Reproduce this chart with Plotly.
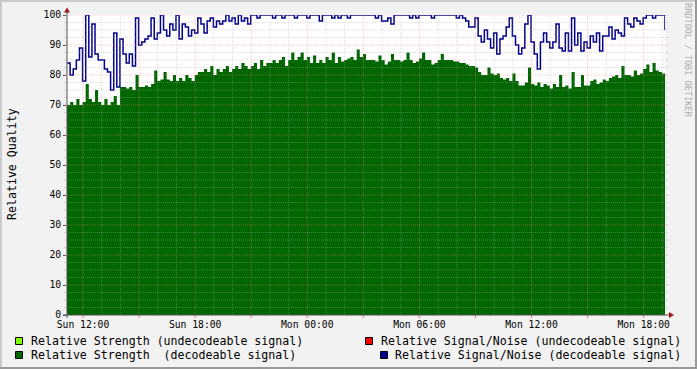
import plotly.graph_objects as go
import pandas as pd

# ---------------- data ----------------
START = "2024-01-07 11:08:30"   # a Sunday
STEP = "10min"

strength_decodeable = [
    70, 71, 70, 72, 70, 71, 77, 72, 71, 75, 71, 70, 72, 70, 71, 73, 70, 76, 76, 75.5,
    76, 75, 80, 76, 76, 76.5, 76, 77, 81.5, 78, 78.5, 81, 78.5,
    78, 80, 78, 79, 78, 80, 79, 78, 80, 81, 81, 82, 81, 83, 80, 82, 81, 82, 83, 81,
    82, 83, 82, 84, 83, 82, 83, 84, 82, 85, 83, 84, 84,
    85, 84, 85, 86, 83, 85, 87.5, 85, 86, 87.5, 85, 86, 84, 86.5, 84, 85, 84, 86, 85, 87.5,
    84, 86, 84.5, 85, 85.5, 86, 85, 88.5, 86, 87, 85, 85,
    85, 84.5, 86.5, 85, 83.5, 84.5, 87, 85, 85, 84.5, 85, 87.5, 85, 84, 84.5, 85.5, 87.5, 85,
    85, 83.5, 84, 85, 87, 85, 85, 85, 84.5, 84.5, 84, 84, 83.5, 83,
    83, 82.5, 81, 80, 80, 82.5, 80.5, 80, 80.5, 79, 78.5, 79, 78, 80.5, 78, 76.5, 76.5, 77.5,
    82.5, 77, 76.5, 77.5, 76, 77, 76.5, 75.5, 77, 76, 80, 76, 76.5, 75.5,
    81, 76, 76, 80, 76.5, 76.5, 78, 78.5, 77, 77.5, 78.5, 78, 79, 79.5, 80, 79, 83, 80,
    80, 79.5, 81.5, 80, 80.5, 82, 83.5, 81, 84, 81.5, 81, 80.5, 80.5,
]

snr_decodeable = [
    84, 80, 82, 85, 89, 78, 100, 86, 97, 87, 85, 85, 82, 81, 75, 94, 76, 92, 87, 84,
    87, 83, 99, 90, 91, 92, 93, 99, 92, 94, 100, 95, 93,
    97, 95, 100, 92, 97, 96, 93, 95, 94, 99, 97, 94, 98, 99, 96, 98, 97, 98, 100, 98,
    99, 97, 100, 98, 99, 97, 100, 100, 99, 100, 100, 100, 100,
    99, 100, 100, 99, 100, 100, 100, 99, 100, 100, 100, 99, 100, 100, 100, 98, 100, 100,
    100, 99, 100, 99, 100, 100, 99, 100, 100, 100, 100, 100, 100, 100,
    100, 99, 100, 98, 98, 99, 97, 100, 100, 100, 100, 100, 99, 100, 99, 100, 100, 100,
    100, 99, 100, 100, 100, 100, 100, 100, 100, 99, 100, 99, 98, 96,
    96, 99, 93, 91, 95, 92, 89, 94, 87, 92, 93, 96, 99, 93, 90, 87, 89, 97, 100, 91,
    87, 82, 91, 94, 91, 89, 91, 97, 89, 88, 94, 88,
    99, 90, 94, 88, 91, 89, 93, 91, 94, 88, 93, 93, 96, 92, 95, 94, 93, 99, 97, 96,
    99, 98, 97, 99, 100, 100, 99, 100, 100, 100, 95,
]

tick_times = [
    "2024-01-07 12:00", "2024-01-07 15:00", "2024-01-07 18:00", "2024-01-07 21:00",
    "2024-01-08 00:00", "2024-01-08 03:00", "2024-01-08 06:00", "2024-01-08 09:00",
    "2024-01-08 12:00", "2024-01-08 15:00", "2024-01-08 18:00",
]
tick_labels = [
    "Sun 12:00", "", "Sun 18:00", "", "Mon 00:00", "", "Mon 06:00", "",
    "Mon 12:00", "", "Mon 18:00",
]
y_ticks = [0, 10, 20, 30, 40, 50, 60, 70, 80, 90, 100]

legend_labels = [
    "Relative Strength (undecodeable signal)",
    "Relative Strength  (decodeable signal)",
    "Relative Signal/Noise (undecodeable signal)",
    "Relative Signal/Noise (decodeable signal)",
]
legend_colors = ["#80ff00", "#006600", "#ff0000", "#000090"]

# ---------------- layout geometry ----------------
W, H = 697, 369
L, R, T, B = 67, 665, 15, 315
FONT = "DejaVu Sans Mono"


def px(x):
    return (x - L) / (R - L)


def py(y):
    return (B - y) / (B - T)


times = pd.date_range(START, periods=len(snr_decodeable), freq=STEP)

fig = go.Figure()
fig.add_trace(go.Scatter(
    x=times, y=strength_decodeable, mode="lines", line=dict(width=0, shape="hv"),
    fill="tozeroy", fillcolor="#006600", hoverinfo="skip", showlegend=False,
))
fig.add_trace(go.Scatter(
    x=times, y=snr_decodeable, mode="lines",
    line=dict(width=1.5, shape="hv", color="#000088"),
    hoverinfo="skip", showlegend=False, cliponaxis=False,
))

shapes = []
MINOR = "rgba(170,170,170,0.4)"
MAJOR = "rgba(255,128,128,0.45)"

# horizontal grid
for k in range(1, 41):
    v = 2.5 * k
    col = MAJOR if v % 10 == 0 else MINOR
    shapes.append(dict(type="line", xref="paper", yref="y", x0=0, x1=1, y0=v, y1=v,
                       line=dict(color=col, width=1, dash="1px,1px"), layer="above"))
    shapes.append(dict(type="line", xref="paper", yref="y", x0=px(665), x1=px(668), y0=v, y1=v,
                       line=dict(color=col, width=1), layer="above"))
    shapes.append(dict(type="line", xref="paper", yref="y", x0=px(64), x1=px(67), y0=v, y1=v,
                       line=dict(color=col, width=1), layer="above"))

# vertical grid (hourly, major every 3h)
hours = pd.date_range("2024-01-07 12:00", "2024-01-08 19:00", freq="1h")
for h in hours:
    col = MAJOR if h.hour % 3 == 0 else MINOR
    shapes.append(dict(type="line", xref="x", yref="paper", x0=h, x1=h, y0=0, y1=1,
                       line=dict(color=col, width=1, dash="1px,1px"), layer="above"))
    if h.hour % 3 == 0:
        shapes.append(dict(type="line", xref="x", yref="paper", x0=h, x1=h, y0=py(315), y1=py(318),
                           line=dict(color="rgba(230,90,90,0.8)", width=1), layer="above"))

# axes lines
AX = "#505050"
shapes.append(dict(type="line", xref="paper", yref="paper", x0=px(63), x1=px(670), y0=0, y1=0,
                   line=dict(color=AX, width=1), layer="above"))
shapes.append(dict(type="line", xref="paper", yref="paper", x0=0, x1=0, y0=py(318), y1=py(10),
                   line=dict(color=AX, width=1), layer="above"))
# arrows
ARW = "#a01818"
shapes.append(dict(type="path", xref="paper", yref="paper",
                   path=f"M {px(67)},{py(7.5)} L {px(64)},{py(12.5)} L {px(70)},{py(12.5)} Z",
                   fillcolor=ARW, line=dict(width=0), layer="above"))
shapes.append(dict(type="path", xref="paper", yref="paper",
                   path=f"M {px(674)},{py(315)} L {px(669)},{py(312)} L {px(669)},{py(318)} Z",
                   fillcolor=ARW, line=dict(width=0), layer="above"))

# image border shading
for (x0, y0, x1, y1, c) in [(0, 0, 697, 2, "#cbcbcb"), (0, 0, 2, 369, "#cbcbcb"),
                            (695, 0, 697, 369, "#999999"), (0, 367, 697, 369, "#999999")]:
    shapes.append(dict(type="rect", xref="paper", yref="paper", x0=px(x0), x1=px(x1),
                       y0=py(y1), y1=py(y0), fillcolor=c, line=dict(width=0), layer="above"))

annotations = []
# legend
legend_pos = [(15, 341, 30), (15, 355, 30), (365, 341, 380), (380, 355, 394)]
for (bx, by, tx), lab, col in zip(legend_pos, legend_labels, legend_colors):
    shapes.append(dict(type="rect", xref="paper", yref="paper", x0=px(bx + 0.5), x1=px(bx + 7.5),
                       y0=py(by + 3.5), y1=py(by - 3.5), fillcolor=col,
                       line=dict(color="black", width=1), layer="above"))
    annotations.append(dict(xref="paper", yref="paper", x=px(tx), y=py(by), text=lab,
                            showarrow=False, xanchor="left", yanchor="middle",
                            font=dict(family=FONT, size=11.6, color="black"), borderpad=0))

annotations.append(dict(xref="paper", yref="paper", x=px(12), y=py(164), text="Relative Quality",
                        showarrow=False, textangle=-90, xanchor="center", yanchor="middle",
                        font=dict(family=FONT, size=11.6, color="black")))
annotations.append(dict(xref="paper", yref="paper", x=px(688), y=py(60),
                        text="RRDTOOL / TOBI OETIKER", showarrow=False, textangle=90,
                        xanchor="center", yanchor="middle",
                        font=dict(family=FONT, size=8.6, color="#b0b0b0")))

fig.update_layout(
    width=W, height=H,
    margin=dict(l=L, r=W - R, t=T, b=H - B, autoexpand=False),
    paper_bgcolor="#f2f2f2", plot_bgcolor="#ffffff",
    showlegend=False,
    shapes=shapes, annotations=annotations,
    xaxis=dict(type="date", range=[times[0], times[-1]], tickvals=tick_times, ticktext=tick_labels,
               ticks="", showgrid=False, zeroline=False, showline=False, ticklabelstandoff=2,
               tickfont=dict(family=FONT, size=9.7, color="black"), fixedrange=True),
    yaxis=dict(range=[0, 100], tickvals=y_ticks, ticks="outside", ticklen=3, tickcolor=AX,
               showgrid=False, zeroline=False, showline=False,
               tickfont=dict(family=FONT, size=9.7, color="black"), fixedrange=True),
)

fig.write_html(
    "out.html",
    config={"displayModeBar": False, "staticPlot": True},
    post_script="document.body.style.margin='0';document.body.style.overflow='hidden';",
)
